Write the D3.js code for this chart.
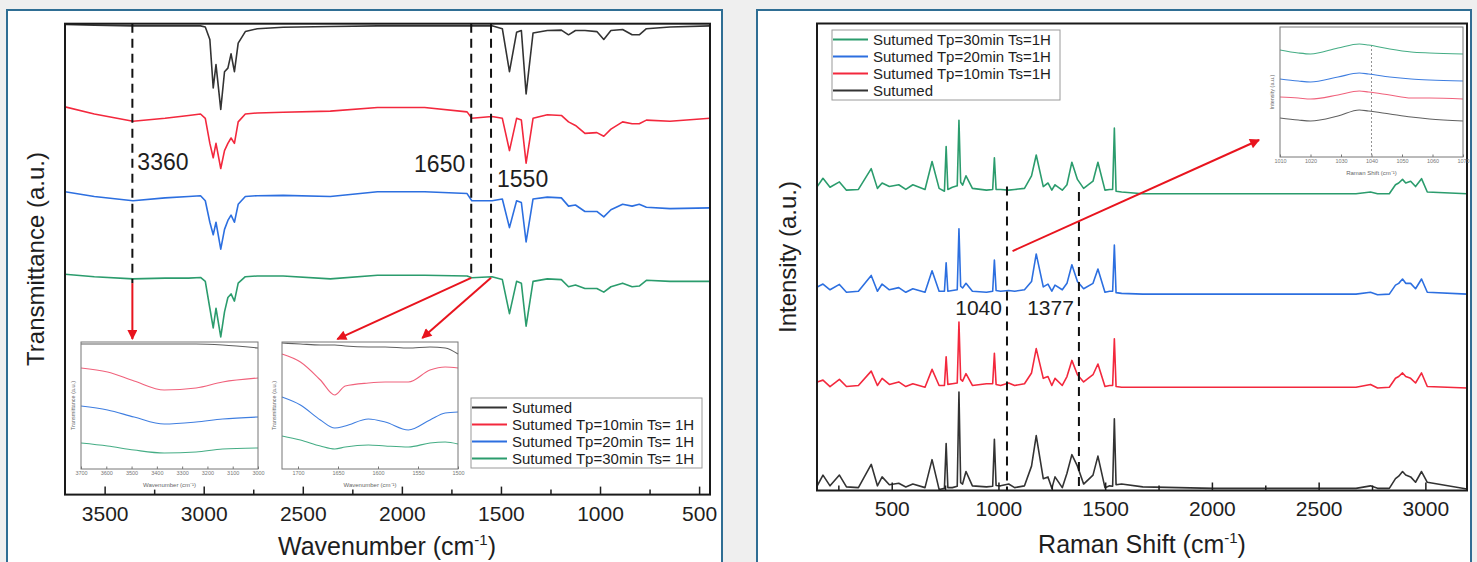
<!DOCTYPE html>
<html>
<head>
<meta charset="utf-8">
<script src="https://cdn.jsdelivr.net/npm/d3@7"></script>
<style>
  body { margin: 0; background: #efefef; }
  svg { display: block; font-family: "Liberation Sans", Arial, sans-serif; }
</style>
</head>
<body>
<svg id="chart" width="1477" height="562"></svg>
<script>
(function (d3) {
  'use strict';

  // ---------- FTIR (left panel) ----------
  const wavenumber = [3700, 3552, 3357, 3195, 3076, 3016, 2992, 2969, 2952, 2938,
    2914, 2895, 2878, 2862, 2845, 2826, 2790, 2730, 2599, 2361,
    2123, 1885, 1671, 1647, 1545, 1493, 1457, 1421, 1397, 1373,
    1338, 1266, 1195, 1159, 1124, 1076, 1016, 981, 945, 886,
    838, 802, 766, 647, 445];
  const ftirSutumed = [1312, 1310, 1308, 1308, 1308, 1308, 1305, 1270, 1135, 1200,
    1075, 1180, 1190, 1230, 1180, 1260, 1292, 1300, 1304, 1306,
    1308, 1308, 1308, 1308, 1308, 1300, 1180, 1290, 1295, 1118,
    1288, 1295, 1296, 1283, 1295, 1295, 1292, 1270, 1295, 1298,
    1283, 1283, 1300, 1305, 1308];
  const ftirTp10 = [1082, 1062, 1042, 1050, 1058, 1062, 1050, 980, 940, 980,
    910, 960, 980, 995, 980, 1040, 1062, 1065, 1067, 1070,
    1080, 1080, 1068, 1050, 1055, 1050, 960, 1050, 1045, 925,
    1050, 1060, 1058, 1040, 1030, 1008, 1010, 1000, 1020, 1040,
    1035, 1035, 1045, 1042, 1050];
  const ftirTp20 = [845, 832, 820, 828, 832, 834, 820, 760, 725, 760,
    685, 740, 765, 780, 760, 810, 832, 834, 835, 832,
    845, 845, 840, 820, 820, 825, 745, 820, 815, 705,
    825, 830, 828, 805, 808, 790, 790, 775, 795, 810,
    805, 810, 802, 798, 800];
  const ftirTp30 = [615, 608, 602, 604, 604, 606, 595, 520, 465, 520,
    440, 510, 550, 560, 540, 590, 608, 610, 610, 602,
    612, 612, 610, 605, 608, 600, 505, 595, 590, 470,
    595, 602, 600, 580, 585, 575, 575, 565, 580, 590,
    580, 582, 598, 595, 595];
  const ftirTicks = [3500, 3000, 2500, 2000, 1500, 1000, 500];
  const ftirMinor = [3250, 2750, 2250, 1750, 1250, 750];
  const ftirMarks = [3360, 1650, 1550];

  // zoom on 3360 region
  const inset1Wn = [3700, 3595, 3490, 3371, 3245, 3140, 3000];
  const inset1Sutumed = [125, 125, 125, 125, 125, 124, 121];
  const inset1Tp10 = [101, 97, 88, 79, 81, 87, 91];
  const inset1Tp20 = [63, 59, 52, 45, 47, 50, 52];
  const inset1Tp30 = [26, 23, 19, 16, 17, 20, 21];
  const inset1Ticks = [3700, 3600, 3500, 3400, 3300, 3200, 3100, 3000];

  // zoom on 1650 - 1550 region
  const inset2Wn = [1720, 1697, 1672, 1654, 1641, 1612, 1591, 1562, 1535, 1516, 1500];
  const inset2Sutumed = [126, 125, 124, 124, 123, 122, 122, 121, 122, 121, 115];
  const inset2Tp10 = [115, 107, 89, 74, 83, 86, 87, 87, 99, 102, 101];
  const inset2Tp20 = [72, 64, 49, 41, 43, 50, 47, 39, 49, 56, 57];
  const inset2Tp30 = [33, 29, 23, 20, 22, 24, 23, 22, 26, 27, 25];
  const inset2Ticks = [1700, 1650, 1600, 1550, 1500];

  // ---------- Raman (right panel) ----------
  const ramanShift = [151, 178, 211, 255, 288, 344, 404, 433, 455, 489,
    533, 566, 599, 656, 689, 722, 747, 755, 763, 784,
    807, 815, 823, 832, 848, 878, 944, 973, 981, 989,
    1010, 1048, 1076, 1122, 1155, 1177, 1210, 1232, 1250, 1265,
    1299, 1321, 1344, 1370, 1399, 1443, 1466, 1499, 1521, 1535,
    1543, 1551, 1577, 1676, 2009, 2675, 2743, 2776, 2831, 2860,
    2875, 2893, 2908, 2931, 2954, 2982, 3009, 3195];
  const ramanTp30 = [848, 871, 846, 861, 838, 840, 898, 843, 858, 848,
    853, 840, 853, 840, 918, 843, 835, 960, 840, 846,
    850, 1033, 860, 852, 878, 843, 838, 840, 928, 840,
    840, 838, 840, 843, 878, 936, 848, 858, 838, 853,
    838, 853, 916, 868, 843, 863, 916, 838, 840, 840,
    1011, 835, 833, 828, 828, 828, 833, 828, 828, 853,
    858, 868, 858, 863, 848, 870, 833, 828];
  const ramanTp20 = [568, 576, 560, 575, 553, 556, 600, 556, 576, 560,
    566, 553, 563, 553, 613, 556, 556, 635, 556, 558,
    560, 730, 570, 565, 578, 556, 553, 556, 643, 558,
    556, 558, 556, 560, 583, 660, 568, 576, 556, 573,
    560, 578, 630, 583, 563, 578, 618, 553, 556, 556,
    685, 552, 550, 548, 548, 548, 553, 546, 548, 573,
    578, 590, 578, 578, 563, 590, 553, 548];
  const ramanTp10 = [303, 308, 290, 310, 290, 293, 333, 293, 313, 296,
    303, 290, 298, 288, 338, 293, 293, 373, 296, 298,
    300, 470, 310, 305, 326, 293, 298, 298, 383, 296,
    293, 300, 293, 298, 328, 396, 313, 318, 293, 313,
    293, 318, 363, 323, 303, 323, 353, 290, 293, 293,
    423, 290, 288, 288, 288, 288, 296, 286, 288, 313,
    318, 328, 318, 313, 300, 328, 290, 286];
  const ramanSutumed = [13, 43, 13, 43, 10, 8, 73, 13, 38, 16,
    20, 10, 18, 8, 86, 3, 6, 131, 8, 8,
    12, 275, 22, 18, 53, 13, 10, 12, 143, 14,
    13, 18, 8, 13, 68, 153, 33, 38, 6, 38,
    8, 48, 100, 68, 18, 43, 96, 8, 13, 12,
    200, 16, 18, 10, 6, 6, 13, 6, 6, 33,
    40, 53, 43, 38, 23, 53, 23, 4];
  const ramanTicks = [500, 1000, 1500, 2000, 2500, 3000];
  const ramanMinor = [250, 750, 1250, 1750, 2250, 2750];
  const ramanMarks = [1040, 1377];

  // zoom on 1040 band
  const insetRShift = [1010, 1016, 1020, 1029, 1036, 1039, 1046, 1053, 1059, 1070];
  const insetRTp30 = [107, 104, 103, 109, 113, 112, 108, 105, 104, 103];
  const insetRTp20 = [78, 76, 75, 80, 84, 83, 80, 78, 77, 76];
  const insetRTp10 = [60, 59, 58, 62, 66, 65, 62, 59, 59, 58];
  const insetRSutumed = [39, 37, 36, 41, 47, 46, 43, 40, 38, 36];
  const insetRTicks = [1010, 1020, 1030, 1040, 1050, 1060, 1070];

  const color = { s0: '#333333', s10: '#f3283d', s20: '#2c6fe0', s30: '#2b9c6d' };
  const light = { s0: '#606060', s10: '#f0627c', s20: '#3f7ee0', s30: '#45ad85' };
  const plain = d3.format('d');

  const svg = d3.select('#chart');

  svg.append('defs')
    .append('marker')
    .attr('id', 'head')
    .attr('viewBox', '0 0 10 10')
    .attr('refX', 9)
    .attr('refY', 5)
    .attr('markerWidth', 6)
    .attr('markerHeight', 5)
    .attr('orient', 'auto')
    .append('path')
    .attr('d', 'M0,0L10,5L0,10z')
    .attr('fill', '#e8141e');

  // panel cards
  const card = (x, w) => svg.append('rect')
    .attr('x', x).attr('y', 10)
    .attr('width', w).attr('height', 570)
    .attr('fill', '#fff')
    .attr('stroke', '#2f6e94')
    .attr('stroke-width', 2);
  card(7, 715);
  card(757, 714);

  const plot = (selection, { left, top, width, height, xDomain, yDomain, xs, series, ticks, minor, clipId }) => {
    const xScale = d3.scaleLinear().domain(xDomain).range([left, left + width]);
    const yScale = d3.scaleLinear().domain(yDomain).range([top + height, top]);

    selection.append('clipPath').attr('id', clipId)
      .append('rect')
      .attr('x', left).attr('y', top)
      .attr('width', width).attr('height', height);

    const line = d3.line().x(d => xScale(d[0])).y(d => yScale(d[1]));
    const lines = selection.append('g').attr('clip-path', `url(#${clipId})`);
    series.forEach(s => {
      lines.append('path')
        .datum(xs.map((v, i) => [v, s.values[i]]))
        .attr('fill', 'none')
        .attr('stroke', s.color)
        .attr('stroke-width', 1.6)
        .attr('stroke-linejoin', 'round')
        .attr('d', line);
    });

    const ax = selection.append('g')
      .attr('transform', `translate(0,${top + height})`)
      .style('color', '#1e1e1e')
      .call(d3.axisBottom(xScale).tickValues(ticks).tickFormat(plain).tickSize(-8).tickPadding(11));
    ax.attr('font-family', null).attr('font-size', 21);
    ax.select('.domain').remove();
    ax.selectAll('line').attr('stroke-width', 1.5);

    const mn = selection.append('g')
      .attr('transform', `translate(0,${top + height})`)
      .style('color', '#1e1e1e')
      .call(d3.axisBottom(xScale).tickValues(minor).tickSize(-5).tickFormat(''));
    mn.select('.domain').remove();
    mn.selectAll('line').attr('stroke-width', 1.5);

    selection.append('rect')
      .attr('x', left).attr('y', top)
      .attr('width', width).attr('height', height)
      .attr('fill', 'none')
      .attr('stroke', '#1a1a1a')
      .attr('stroke-width', 2);

    return { xScale, yScale };
  };

  const axisTitle = (selection, { x, y, text, size }) => {
    const t = selection.append('text')
      .attr('text-anchor', 'middle')
      .attr('font-size', size)
      .attr('fill', '#1e1e1e')
      .attr('transform', `translate(${x},${y})`);
    t.append('tspan').text(text);
    t.append('tspan').attr('dy', -size * 0.42).attr('font-size', size * 0.6).text('-1');
    t.append('tspan').attr('dy', size * 0.42).text(')');
    return t;
  };

  const yTitle = (selection, { x, y, text, size }) => selection.append('text')
    .attr('text-anchor', 'middle')
    .attr('font-size', size)
    .attr('fill', '#1e1e1e')
    .attr('transform', `translate(${x},${y}) rotate(-90)`)
    .text(text);

  const inset = (selection, { left, top, width, height, xDomain, yDomain, xs, series, ticks, xLabel, yLabel, mark }) => {
    const xScale = d3.scaleLinear().domain(xDomain).range([left, left + width]);
    const yScale = d3.scaleLinear().domain(yDomain).range([top + height, top]);
    selection.append('rect')
      .attr('x', left).attr('y', top)
      .attr('width', width).attr('height', height)
      .attr('fill', '#fff');
    if (mark) {
      selection.append('line')
        .attr('x1', xScale(mark)).attr('x2', xScale(mark))
        .attr('y1', top + 18).attr('y2', top + height)
        .attr('stroke', '#777').attr('stroke-width', 0.8)
        .attr('stroke-dasharray', '2,2');
    }
    const line = d3.line().x(d => xScale(d[0])).y(d => yScale(d[1])).curve(d3.curveMonotoneX);
    series.forEach(s => {
      selection.append('path')
        .datum(xs.map((v, i) => [v, s.values[i]]))
        .attr('fill', 'none')
        .attr('stroke', s.color)
        .attr('stroke-width', 1.1)
        .attr('d', line);
    });
    const ax = selection.append('g')
      .attr('transform', `translate(0,${top + height})`)
      .style('color', '#777')
      .call(d3.axisBottom(xScale).tickValues(ticks).tickFormat(plain).tickSize(-2.5).tickPadding(2));
    ax.attr('font-family', null).attr('font-size', 5.5);
    ax.select('.domain').remove();
    selection.append('rect')
      .attr('x', left).attr('y', top)
      .attr('width', width).attr('height', height)
      .attr('fill', 'none')
      .attr('stroke', '#777')
      .attr('stroke-width', 1);
    selection.append('text')
      .attr('x', left + width / 2).attr('y', top + height + 18)
      .attr('text-anchor', 'middle')
      .attr('font-size', 6)
      .attr('fill', '#666')
      .text(xLabel);
    selection.append('text')
      .attr('text-anchor', 'middle')
      .attr('font-size', 5.5)
      .attr('fill', '#666')
      .attr('transform', `translate(${left - 6},${top + height / 2}) rotate(-90)`)
      .text(yLabel);
  };

  const legend = (selection, { left, top, width, height, rows }) => {
    selection.append('rect')
      .attr('x', left).attr('y', top)
      .attr('width', width).attr('height', height)
      .attr('fill', '#fff')
      .attr('stroke', '#9a9a9a')
      .attr('stroke-width', 1);
    rows.forEach((r, i) => {
      const y = top + 9.5 + i * 17;
      selection.append('line')
        .attr('x1', left + 1).attr('x2', left + 36)
        .attr('y1', y).attr('y2', y)
        .attr('stroke', r.color).attr('stroke-width', 2);
      selection.append('text')
        .attr('x', left + 41).attr('y', y + 5.5)
        .attr('font-size', 15)
        .attr('fill', '#1e1e1e')
        .text(r.label);
    });
  };

  const dashed = (selection, x, y1, y2) => selection.append('line')
    .attr('x1', x).attr('x2', x).attr('y1', y1).attr('y2', y2)
    .attr('stroke', '#111').attr('stroke-width', 2)
    .attr('stroke-dasharray', '9,6');

  const arrow = (selection, x1, y1, x2, y2) => selection.append('line')
    .attr('x1', x1).attr('y1', y1).attr('x2', x2).attr('y2', y2)
    .attr('stroke', '#e8141e').attr('stroke-width', 2)
    .attr('marker-end', 'url(#head)');

  const note = (selection, x, y, text, anchor, size) => selection.append('text')
    .attr('x', x).attr('y', y)
    .attr('text-anchor', anchor)
    .attr('font-size', size)
    .attr('fill', '#1e1e1e')
    .text(text);

  // ---------- left: FTIR ----------
  const left = svg.append('g');
  const ftir = plot(left, {
    left: 65, top: 23.7, width: 645, height: 470.9,
    xDomain: [3700, 445], yDomain: [0, 1314],
    xs: wavenumber,
    series: [
      { values: ftirTp30, color: color.s30 },
      { values: ftirTp20, color: color.s20 },
      { values: ftirTp10, color: color.s10 },
      { values: ftirSutumed, color: color.s0 }
    ],
    ticks: ftirTicks, minor: ftirMinor, clipId: 'clipL'
  });
  const fx = ftir.xScale, fy = ftir.yScale;

  dashed(left, fx(ftirMarks[0]), fy(1314), fy(590));
  dashed(left, fx(ftirMarks[1]), fy(1314), fy(605));
  dashed(left, fx(ftirMarks[2]), fy(1314), fy(605));
  note(left, fx(3360) + 5, fy(905), '3360', 'start', 23);
  note(left, fx(1650) - 6, fy(899), '1650', 'end', 23);
  note(left, fx(1550) + 6, fy(857), '1550', 'start', 23);

  arrow(left, fx(3360), fy(590), fx(3360), fy(434));
  arrow(left, fx(1650), fy(605), fx(2326), fy(434));
  arrow(left, fx(1550), fy(605), fx(1897), fy(437));

  inset(left, {
    left: 81, top: 342, width: 177, height: 127,
    xDomain: [3700, 3000], yDomain: [0, 127],
    xs: inset1Wn,
    series: [
      { values: inset1Sutumed, color: light.s0 },
      { values: inset1Tp10, color: light.s10 },
      { values: inset1Tp20, color: light.s20 },
      { values: inset1Tp30, color: light.s30 }
    ],
    ticks: inset1Ticks, xLabel: 'Wavenumber (cm⁻¹)', yLabel: 'Transmittance (a.u.)'
  });
  inset(left, {
    left: 282, top: 342, width: 176, height: 127,
    xDomain: [1720, 1500], yDomain: [0, 127],
    xs: inset2Wn,
    series: [
      { values: inset2Sutumed, color: light.s0 },
      { values: inset2Tp10, color: light.s10 },
      { values: inset2Tp20, color: light.s20 },
      { values: inset2Tp30, color: light.s30 }
    ],
    ticks: inset2Ticks, xLabel: 'Wavenumber (cm⁻¹)', yLabel: 'Transmittance (a.u.)'
  });

  legend(left, {
    left: 471, top: 398, width: 231, height: 70,
    rows: [
      { label: 'Sutumed', color: color.s0 },
      { label: 'Sutumed Tp=10min Ts= 1H', color: color.s10 },
      { label: 'Sutumed Tp=20min Ts= 1H', color: color.s20 },
      { label: 'Sutumed Tp=30min Ts= 1H', color: color.s30 }
    ]
  });

  axisTitle(left, { x: 387, y: 555, text: 'Wavenumber (cm', size: 25 });
  yTitle(left, { x: 44, y: 259, text: 'Transmittance (a.u.)', size: 24 });

  // ---------- right: Raman ----------
  const right = svg.append('g');
  const raman = plot(right, {
    left: 817, top: 23.5, width: 650, height: 467,
    xDomain: [150, 3195], yDomain: [0, 1303],
    xs: ramanShift,
    series: [
      { values: ramanSutumed, color: color.s0 },
      { values: ramanTp10, color: color.s10 },
      { values: ramanTp20, color: color.s20 },
      { values: ramanTp30, color: color.s30 }
    ],
    ticks: ramanTicks, minor: ramanMinor, clipId: 'clipR'
  });
  const rx = raman.xScale, ry = raman.yScale;

  dashed(right, rx(ramanMarks[0]), ry(848), ry(0));
  dashed(right, rx(ramanMarks[1]), ry(833), ry(0));
  note(right, rx(1040) - 5, ry(490), '1040', 'end', 21);
  note(right, rx(1377) - 5, ry(490), '1377', 'end', 21);
  arrow(right, rx(1066), ry(668), rx(2221), ry(978));

  legend(right, {
    left: 832, top: 30, width: 228, height: 70,
    rows: [
      { label: 'Sutumed Tp=30min Ts=1H', color: color.s30 },
      { label: 'Sutumed Tp=20min Ts=1H', color: color.s20 },
      { label: 'Sutumed Tp=10min Ts=1H', color: color.s10 },
      { label: 'Sutumed', color: color.s0 }
    ]
  });

  inset(right, {
    left: 1280, top: 27, width: 183, height: 130,
    xDomain: [1010, 1070], yDomain: [0, 130],
    xs: insetRShift,
    series: [
      { values: insetRTp30, color: light.s30 },
      { values: insetRTp20, color: light.s20 },
      { values: insetRTp10, color: light.s10 },
      { values: insetRSutumed, color: light.s0 }
    ],
    ticks: insetRTicks, xLabel: 'Raman Shift (cm⁻¹)', yLabel: 'Intensity (a.u.)', mark: 1040
  });

  axisTitle(right, { x: 1142, y: 553, text: 'Raman Shift (cm', size: 25 });
  yTitle(right, { x: 796, y: 257, text: 'Intensity (a.u.)', size: 24 });

}(d3));
</script>
</body>
</html>
